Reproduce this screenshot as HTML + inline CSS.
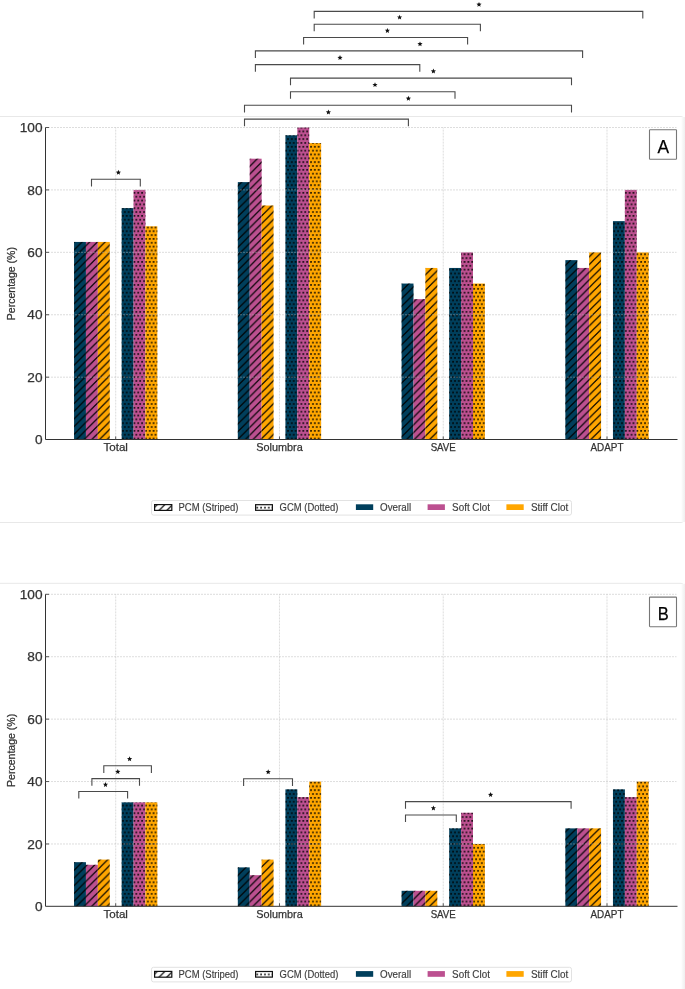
<!DOCTYPE html>
<html><head><meta charset="utf-8"><style>
html,body{margin:0;padding:0;background:#fff;}
svg{display:block;will-change:transform;}
text{stroke-width:0.25px;font-family:"Liberation Sans",sans-serif;}
</style></head><body>
<svg width="685" height="989" viewBox="0 0 685 989">
<defs><linearGradient id="edge" x1="0" x2="1" y1="0" y2="0"><stop offset="0" stop-color="#fff"/><stop offset="0.5" stop-color="#f6f6f6"/><stop offset="1" stop-color="#efefef"/></linearGradient>
<pattern id="stripe" patternUnits="userSpaceOnUse" width="7.6780" height="7.6780"><path d="M-2 -11.86 L9.68 -23.53 M-2 -4.18 L9.68 -15.86 M-2 3.5 L9.68 -8.18 M-2 11.18 L9.68 -0.5 M-2 18.86 L9.68 7.18" stroke="#000" stroke-width="1.15" fill="none"/></pattern>
<pattern id="dots" patternUnits="userSpaceOnUse" width="3.8390" height="7.6780"><g fill="#000"><circle cx="-3.78" cy="-6.81" r="0.9"/><circle cx="-3.78" cy="0.87" r="0.9"/><circle cx="-3.78" cy="8.55" r="0.9"/><circle cx="0.06" cy="-6.81" r="0.9"/><circle cx="0.06" cy="0.87" r="0.9"/><circle cx="0.06" cy="8.55" r="0.9"/><circle cx="3.9" cy="-6.81" r="0.9"/><circle cx="3.9" cy="0.87" r="0.9"/><circle cx="3.9" cy="8.55" r="0.9"/><circle cx="-1.86" cy="-2.97" r="0.9"/><circle cx="-1.86" cy="4.71" r="0.9"/><circle cx="-1.86" cy="12.39" r="0.9"/><circle cx="1.98" cy="-2.97" r="0.9"/><circle cx="1.98" cy="4.71" r="0.9"/><circle cx="1.98" cy="12.39" r="0.9"/><circle cx="5.82" cy="-2.97" r="0.9"/><circle cx="5.82" cy="4.71" r="0.9"/><circle cx="5.82" cy="12.39" r="0.9"/></g></pattern></defs>
<rect width="685" height="989" fill="#fff"/>
<rect x="-3.5" y="116.5" width="687" height="406" rx="2.5" fill="#fff" stroke="#e8e8e8" stroke-width="1"/>
<rect x="681" y="117" width="4" height="405" fill="url(#edge)"/>
<rect x="-3.5" y="583.3" width="687" height="420" rx="2.5" fill="#fff" stroke="#e8e8e8" stroke-width="1"/>
<rect x="681" y="583.8" width="4" height="419" fill="url(#edge)"/>
<g><rect x="74.05" y="241.95" width="11.9" height="197.65" fill="#003f5c"/>
<rect x="74.05" y="241.95" width="11.9" height="197.65" fill="url(#stripe)"/>
<rect x="85.95" y="241.95" width="11.9" height="197.65" fill="#bc5090"/>
<rect x="85.95" y="241.95" width="11.9" height="197.65" fill="url(#stripe)"/>
<rect x="97.85" y="241.95" width="11.9" height="197.65" fill="#ffa600"/>
<rect x="97.85" y="241.95" width="11.9" height="197.65" fill="url(#stripe)"/>
<rect x="121.65" y="208.12" width="11.9" height="231.48" fill="#003f5c"/>
<rect x="121.65" y="208.12" width="11.9" height="231.48" fill="url(#dots)"/>
<rect x="133.55" y="189.92" width="11.9" height="249.68" fill="#bc5090"/>
<rect x="133.55" y="189.92" width="11.9" height="249.68" fill="url(#dots)"/>
<rect x="145.45" y="226.34" width="11.9" height="213.26" fill="#ffa600"/>
<rect x="145.45" y="226.34" width="11.9" height="213.26" fill="url(#dots)"/>
<rect x="237.82" y="182.12" width="11.9" height="257.48" fill="#003f5c"/>
<rect x="237.82" y="182.12" width="11.9" height="257.48" fill="url(#stripe)"/>
<rect x="249.72" y="158.71" width="11.9" height="280.89" fill="#bc5090"/>
<rect x="249.72" y="158.71" width="11.9" height="280.89" fill="url(#stripe)"/>
<rect x="261.62" y="205.53" width="11.9" height="234.07" fill="#ffa600"/>
<rect x="261.62" y="205.53" width="11.9" height="234.07" fill="url(#stripe)"/>
<rect x="285.42" y="135.3" width="11.9" height="304.3" fill="#003f5c"/>
<rect x="285.42" y="135.3" width="11.9" height="304.3" fill="url(#dots)"/>
<rect x="297.32" y="127.5" width="11.9" height="312.1" fill="#bc5090"/>
<rect x="297.32" y="127.5" width="11.9" height="312.1" fill="url(#dots)"/>
<rect x="309.22" y="143.11" width="11.9" height="296.5" fill="#ffa600"/>
<rect x="309.22" y="143.11" width="11.9" height="296.5" fill="url(#dots)"/>
<rect x="401.59" y="283.55" width="11.9" height="156.05" fill="#003f5c"/>
<rect x="401.59" y="283.55" width="11.9" height="156.05" fill="url(#stripe)"/>
<rect x="413.49" y="299.16" width="11.9" height="140.44" fill="#bc5090"/>
<rect x="413.49" y="299.16" width="11.9" height="140.44" fill="url(#stripe)"/>
<rect x="425.39" y="267.95" width="11.9" height="171.65" fill="#ffa600"/>
<rect x="425.39" y="267.95" width="11.9" height="171.65" fill="url(#stripe)"/>
<rect x="449.19" y="267.95" width="11.9" height="171.65" fill="#003f5c"/>
<rect x="449.19" y="267.95" width="11.9" height="171.65" fill="url(#dots)"/>
<rect x="461.09" y="252.34" width="11.9" height="187.26" fill="#bc5090"/>
<rect x="461.09" y="252.34" width="11.9" height="187.26" fill="url(#dots)"/>
<rect x="472.99" y="283.55" width="11.9" height="156.05" fill="#ffa600"/>
<rect x="472.99" y="283.55" width="11.9" height="156.05" fill="url(#dots)"/>
<rect x="565.36" y="260.14" width="11.9" height="179.46" fill="#003f5c"/>
<rect x="565.36" y="260.14" width="11.9" height="179.46" fill="url(#stripe)"/>
<rect x="577.26" y="267.95" width="11.9" height="171.65" fill="#bc5090"/>
<rect x="577.26" y="267.95" width="11.9" height="171.65" fill="url(#stripe)"/>
<rect x="589.16" y="252.34" width="11.9" height="187.26" fill="#ffa600"/>
<rect x="589.16" y="252.34" width="11.9" height="187.26" fill="url(#stripe)"/>
<rect x="612.96" y="221.13" width="11.9" height="218.47" fill="#003f5c"/>
<rect x="612.96" y="221.13" width="11.9" height="218.47" fill="url(#dots)"/>
<rect x="624.86" y="189.92" width="11.9" height="249.68" fill="#bc5090"/>
<rect x="624.86" y="189.92" width="11.9" height="249.68" fill="url(#dots)"/>
<rect x="636.76" y="252.34" width="11.9" height="187.26" fill="#ffa600"/>
<rect x="636.76" y="252.34" width="11.9" height="187.26" fill="url(#dots)"/>
<g stroke="#b4b4b4" stroke-opacity="0.45" stroke-width="1" stroke-dasharray="2 1"><line x1="45" y1="377.18" x2="676.5" y2="377.18"/><line x1="45" y1="314.76" x2="676.5" y2="314.76"/><line x1="45" y1="252.34" x2="676.5" y2="252.34"/><line x1="45" y1="189.92" x2="676.5" y2="189.92"/><line x1="45" y1="127.5" x2="676.5" y2="127.5"/><line x1="115.7" y1="127.5" x2="115.7" y2="439.6" stroke-dashoffset="0.9"/><line x1="279.47" y1="127.5" x2="279.47" y2="439.6" stroke-dashoffset="0.9"/><line x1="443.24" y1="127.5" x2="443.24" y2="439.6" stroke-dashoffset="0.9"/><line x1="607.01" y1="127.5" x2="607.01" y2="439.6" stroke-dashoffset="0.9"/></g>
<path d="M45.5 127.5 V439.5 H677.5" fill="none" stroke="#333" stroke-width="1"/>
<path d="M45.5 377.18 h3.5 M45.5 314.76 h3.5 M45.5 252.34 h3.5 M45.5 189.92 h3.5 M45.5 127.5 h3.5 M115.7 439.5 v-3 M279.47 439.5 v-3 M443.24 439.5 v-3 M607.01 439.5 v-3" stroke="#555" stroke-width="1" fill="none"/>
<text x="42.5" y="444.2" text-anchor="end" font-size="12" fill="#333" stroke="#333" textLength="7.6" lengthAdjust="spacingAndGlyphs">0</text>
<text x="42.5" y="381.78" text-anchor="end" font-size="12" fill="#333" stroke="#333" textLength="15.2" lengthAdjust="spacingAndGlyphs">20</text>
<text x="42.5" y="319.36" text-anchor="end" font-size="12" fill="#333" stroke="#333" textLength="15.2" lengthAdjust="spacingAndGlyphs">40</text>
<text x="42.5" y="256.94" text-anchor="end" font-size="12" fill="#333" stroke="#333" textLength="15.2" lengthAdjust="spacingAndGlyphs">60</text>
<text x="42.5" y="194.52" text-anchor="end" font-size="12" fill="#333" stroke="#333" textLength="15.2" lengthAdjust="spacingAndGlyphs">80</text>
<text x="42.5" y="132.1" text-anchor="end" font-size="12" fill="#333" stroke="#333" textLength="22.8" lengthAdjust="spacingAndGlyphs">100</text>
<text x="115.7" y="450.9" text-anchor="middle" font-size="11.1" fill="#333" stroke="#333" textLength="24.5" lengthAdjust="spacingAndGlyphs">Total</text>
<text x="279.47" y="450.9" text-anchor="middle" font-size="11.1" fill="#333" stroke="#333" textLength="46.5" lengthAdjust="spacingAndGlyphs">Solumbra</text>
<text x="443.24" y="450.9" text-anchor="middle" font-size="11.1" fill="#333" stroke="#333" textLength="25.2" lengthAdjust="spacingAndGlyphs">SAVE</text>
<text x="607.01" y="450.9" text-anchor="middle" font-size="11.1" fill="#333" stroke="#333" textLength="33" lengthAdjust="spacingAndGlyphs">ADAPT</text>
<text transform="translate(14.5 283.6) rotate(-90)" text-anchor="middle" font-size="10.3" fill="#333" stroke="#333" textLength="73.2" lengthAdjust="spacingAndGlyphs">Percentage (%)</text>
<path d="M314.2 18.5 V11.4 H642.8 V18.5 M314.2 31.3 V24.2 H480.4 V31.3 M303.6 44.6 V37.5 H467.6 V44.6 M255.4 58 V50.9 H582.6 V58 M255.4 71.7 V64.6 H419.8 V71.7 M290.5 85.2 V78.1 H571.5 V85.2 M290.5 98.8 V91.7 H455 V98.8 M244.5 112.4 V105.3 H571.5 V112.4 M244.5 126.2 V119.1 H408.4 V126.2 M91.5 186.4 V179.3 H140.3 V186.4" fill="none" stroke="#4a4a4a" stroke-width="1.1"/>
<polygon points="479,1.9 479.71,3.62 481.57,3.77 480.16,4.98 480.59,6.78 479,5.82 477.41,6.78 477.84,4.98 476.43,3.77 478.29,3.62" fill="#111"/>
<polygon points="399.6,14.7 400.31,16.42 402.17,16.57 400.76,17.78 401.19,19.58 399.6,18.61 398.01,19.58 398.44,17.78 397.03,16.57 398.89,16.42" fill="#111"/>
<polygon points="387.4,28 388.11,29.72 389.97,29.87 388.56,31.08 388.99,32.88 387.4,31.91 385.81,32.88 386.24,31.08 384.83,29.87 386.69,29.72" fill="#111"/>
<polygon points="420,41.4 420.71,43.12 422.57,43.27 421.16,44.48 421.59,46.28 420,45.32 418.41,46.28 418.84,44.48 417.43,43.27 419.29,43.12" fill="#111"/>
<polygon points="340,55.1 340.71,56.82 342.57,56.97 341.16,58.18 341.59,59.98 340,59.02 338.41,59.98 338.84,58.18 337.43,56.97 339.29,56.82" fill="#111"/>
<polygon points="433.4,68.6 434.11,70.32 435.97,70.47 434.56,71.68 434.99,73.48 433.4,72.52 431.81,73.48 432.24,71.68 430.83,70.47 432.69,70.32" fill="#111"/>
<polygon points="375,82.2 375.71,83.92 377.57,84.07 376.16,85.28 376.59,87.08 375,86.12 373.41,87.08 373.84,85.28 372.43,84.07 374.29,83.92" fill="#111"/>
<polygon points="408.4,95.8 409.11,97.52 410.97,97.67 409.56,98.88 409.99,100.68 408.4,99.72 406.81,100.68 407.24,98.88 405.83,97.67 407.69,97.52" fill="#111"/>
<polygon points="328.4,109.6 329.11,111.32 330.97,111.47 329.56,112.68 329.99,114.48 328.4,113.52 326.81,114.48 327.24,112.68 325.83,111.47 327.69,111.32" fill="#111"/>
<polygon points="118.4,169.8 119.11,171.52 120.97,171.67 119.56,172.88 119.99,174.68 118.4,173.72 116.81,174.68 117.24,172.88 115.83,171.67 117.69,171.52" fill="#111"/>
<rect x="649.5" y="129.7" width="27" height="29.6" rx="0.6" fill="#fff" stroke="#777" stroke-width="1.1"/>
<text x="663.2" y="152.5" text-anchor="middle" font-size="18.6" fill="#000" stroke="#000" textLength="11.6" lengthAdjust="spacingAndGlyphs">A</text>
<rect x="151.5" y="500.5" width="420" height="14.6" rx="2" fill="#fff" stroke="#e2e2e2" stroke-width="1"/>
<rect x="154.6" y="504.6" width="17.2" height="5.8" fill="url(#stripe)" stroke="#111" stroke-width="1.2"/>
<text x="178.5" y="510.8" font-size="10" fill="#3c3c3c" stroke="#3c3c3c" style="stroke-width:0.15px" textLength="60" lengthAdjust="spacingAndGlyphs">PCM (Striped)</text>
<rect x="255.6" y="504.7" width="16.8" height="5.6" fill="url(#dots)" stroke="#111" stroke-width="1.2"/>
<text x="279.6" y="510.8" font-size="10" fill="#3c3c3c" stroke="#3c3c3c" style="stroke-width:0.15px" textLength="58.8" lengthAdjust="spacingAndGlyphs">GCM (Dotted)</text>
<rect x="355.9" y="504.3" width="17.3" height="5.7" fill="#003f5c"/>
<text x="380.1" y="510.8" font-size="10" fill="#3c3c3c" stroke="#3c3c3c" style="stroke-width:0.15px" textLength="31" lengthAdjust="spacingAndGlyphs">Overall</text>
<rect x="427.6" y="504.3" width="17.3" height="5.7" fill="#bc5090"/>
<text x="452.1" y="510.8" font-size="10" fill="#3c3c3c" stroke="#3c3c3c" style="stroke-width:0.15px" textLength="37.8" lengthAdjust="spacingAndGlyphs">Soft Clot</text>
<rect x="506.4" y="504.3" width="17.3" height="5.7" fill="#ffa600"/>
<text x="531" y="510.8" font-size="10" fill="#3c3c3c" stroke="#3c3c3c" style="stroke-width:0.15px" textLength="37.2" lengthAdjust="spacingAndGlyphs">Stiff Clot</text></g>
<g transform="translate(0 466.8)"><rect x="74.05" y="395.38" width="11.9" height="44.22" fill="#003f5c"/>
<rect x="74.05" y="395.38" width="11.9" height="44.22" fill="url(#stripe)"/>
<rect x="85.95" y="398" width="11.9" height="41.6" fill="#bc5090"/>
<rect x="85.95" y="398" width="11.9" height="41.6" fill="url(#stripe)"/>
<rect x="97.85" y="392.79" width="11.9" height="46.81" fill="#ffa600"/>
<rect x="97.85" y="392.79" width="11.9" height="46.81" fill="url(#stripe)"/>
<rect x="121.65" y="335.58" width="11.9" height="104.02" fill="#003f5c"/>
<rect x="121.65" y="335.58" width="11.9" height="104.02" fill="url(#dots)"/>
<rect x="133.55" y="335.58" width="11.9" height="104.02" fill="#bc5090"/>
<rect x="133.55" y="335.58" width="11.9" height="104.02" fill="url(#dots)"/>
<rect x="145.45" y="335.58" width="11.9" height="104.02" fill="#ffa600"/>
<rect x="145.45" y="335.58" width="11.9" height="104.02" fill="url(#dots)"/>
<rect x="237.82" y="400.59" width="11.9" height="39.01" fill="#003f5c"/>
<rect x="237.82" y="400.59" width="11.9" height="39.01" fill="url(#stripe)"/>
<rect x="249.72" y="408.39" width="11.9" height="31.21" fill="#bc5090"/>
<rect x="249.72" y="408.39" width="11.9" height="31.21" fill="url(#stripe)"/>
<rect x="261.62" y="392.79" width="11.9" height="46.81" fill="#ffa600"/>
<rect x="261.62" y="392.79" width="11.9" height="46.81" fill="url(#stripe)"/>
<rect x="285.42" y="322.56" width="11.9" height="117.04" fill="#003f5c"/>
<rect x="285.42" y="322.56" width="11.9" height="117.04" fill="url(#dots)"/>
<rect x="297.32" y="330.37" width="11.9" height="109.24" fill="#bc5090"/>
<rect x="297.32" y="330.37" width="11.9" height="109.24" fill="url(#dots)"/>
<rect x="309.22" y="314.76" width="11.9" height="124.84" fill="#ffa600"/>
<rect x="309.22" y="314.76" width="11.9" height="124.84" fill="url(#dots)"/>
<rect x="401.59" y="424" width="11.9" height="15.61" fill="#003f5c"/>
<rect x="401.59" y="424" width="11.9" height="15.61" fill="url(#stripe)"/>
<rect x="413.49" y="424" width="11.9" height="15.61" fill="#bc5090"/>
<rect x="413.49" y="424" width="11.9" height="15.61" fill="url(#stripe)"/>
<rect x="425.39" y="424" width="11.9" height="15.61" fill="#ffa600"/>
<rect x="425.39" y="424" width="11.9" height="15.61" fill="url(#stripe)"/>
<rect x="449.19" y="361.58" width="11.9" height="78.02" fill="#003f5c"/>
<rect x="449.19" y="361.58" width="11.9" height="78.02" fill="url(#dots)"/>
<rect x="461.09" y="345.97" width="11.9" height="93.63" fill="#bc5090"/>
<rect x="461.09" y="345.97" width="11.9" height="93.63" fill="url(#dots)"/>
<rect x="472.99" y="377.18" width="11.9" height="62.42" fill="#ffa600"/>
<rect x="472.99" y="377.18" width="11.9" height="62.42" fill="url(#dots)"/>
<rect x="565.36" y="361.58" width="11.9" height="78.02" fill="#003f5c"/>
<rect x="565.36" y="361.58" width="11.9" height="78.02" fill="url(#stripe)"/>
<rect x="577.26" y="361.58" width="11.9" height="78.02" fill="#bc5090"/>
<rect x="577.26" y="361.58" width="11.9" height="78.02" fill="url(#stripe)"/>
<rect x="589.16" y="361.58" width="11.9" height="78.02" fill="#ffa600"/>
<rect x="589.16" y="361.58" width="11.9" height="78.02" fill="url(#stripe)"/>
<rect x="612.96" y="322.56" width="11.9" height="117.04" fill="#003f5c"/>
<rect x="612.96" y="322.56" width="11.9" height="117.04" fill="url(#dots)"/>
<rect x="624.86" y="330.37" width="11.9" height="109.24" fill="#bc5090"/>
<rect x="624.86" y="330.37" width="11.9" height="109.24" fill="url(#dots)"/>
<rect x="636.76" y="314.76" width="11.9" height="124.84" fill="#ffa600"/>
<rect x="636.76" y="314.76" width="11.9" height="124.84" fill="url(#dots)"/>
<g stroke="#b4b4b4" stroke-opacity="0.45" stroke-width="1" stroke-dasharray="2 1"><line x1="45" y1="377.18" x2="676.5" y2="377.18"/><line x1="45" y1="314.76" x2="676.5" y2="314.76"/><line x1="45" y1="252.34" x2="676.5" y2="252.34"/><line x1="45" y1="189.92" x2="676.5" y2="189.92"/><line x1="45" y1="127.5" x2="676.5" y2="127.5"/><line x1="115.7" y1="127.5" x2="115.7" y2="439.6" stroke-dashoffset="0.9"/><line x1="279.47" y1="127.5" x2="279.47" y2="439.6" stroke-dashoffset="0.9"/><line x1="443.24" y1="127.5" x2="443.24" y2="439.6" stroke-dashoffset="0.9"/><line x1="607.01" y1="127.5" x2="607.01" y2="439.6" stroke-dashoffset="0.9"/></g>
<path d="M45.5 127.5 V439.5 H677.5" fill="none" stroke="#333" stroke-width="1"/>
<path d="M45.5 377.18 h3.5 M45.5 314.76 h3.5 M45.5 252.34 h3.5 M45.5 189.92 h3.5 M45.5 127.5 h3.5 M115.7 439.5 v-3 M279.47 439.5 v-3 M443.24 439.5 v-3 M607.01 439.5 v-3" stroke="#555" stroke-width="1" fill="none"/>
<text x="42.5" y="444.2" text-anchor="end" font-size="12" fill="#333" stroke="#333" textLength="7.6" lengthAdjust="spacingAndGlyphs">0</text>
<text x="42.5" y="381.78" text-anchor="end" font-size="12" fill="#333" stroke="#333" textLength="15.2" lengthAdjust="spacingAndGlyphs">20</text>
<text x="42.5" y="319.36" text-anchor="end" font-size="12" fill="#333" stroke="#333" textLength="15.2" lengthAdjust="spacingAndGlyphs">40</text>
<text x="42.5" y="256.94" text-anchor="end" font-size="12" fill="#333" stroke="#333" textLength="15.2" lengthAdjust="spacingAndGlyphs">60</text>
<text x="42.5" y="194.52" text-anchor="end" font-size="12" fill="#333" stroke="#333" textLength="15.2" lengthAdjust="spacingAndGlyphs">80</text>
<text x="42.5" y="132.1" text-anchor="end" font-size="12" fill="#333" stroke="#333" textLength="22.8" lengthAdjust="spacingAndGlyphs">100</text>
<text x="115.7" y="450.9" text-anchor="middle" font-size="11.1" fill="#333" stroke="#333" textLength="24.5" lengthAdjust="spacingAndGlyphs">Total</text>
<text x="279.47" y="450.9" text-anchor="middle" font-size="11.1" fill="#333" stroke="#333" textLength="46.5" lengthAdjust="spacingAndGlyphs">Solumbra</text>
<text x="443.24" y="450.9" text-anchor="middle" font-size="11.1" fill="#333" stroke="#333" textLength="25.2" lengthAdjust="spacingAndGlyphs">SAVE</text>
<text x="607.01" y="450.9" text-anchor="middle" font-size="11.1" fill="#333" stroke="#333" textLength="33" lengthAdjust="spacingAndGlyphs">ADAPT</text>
<text transform="translate(14.5 283.6) rotate(-90)" text-anchor="middle" font-size="10.3" fill="#333" stroke="#333" textLength="73.2" lengthAdjust="spacingAndGlyphs">Percentage (%)</text>
<path d="M103.8 306.1 V299 H151.4 V306.1 M91.9 318.9 V311.8 H139.5 V318.9 M78.8 331.8 V324.7 H127.6 V331.8 M243.6 319.1 V312 H292.5 V319.1 M405.5 355.3 V348.2 H456.3 V355.3 M405.5 341.9 V334.8 H571.1 V341.9" fill="none" stroke="#4a4a4a" stroke-width="1.1"/>
<polygon points="129.6,289.5 130.31,291.22 132.17,291.37 130.76,292.58 131.19,294.38 129.6,293.41 128.01,294.38 128.44,292.58 127.03,291.37 128.89,291.22" fill="#111"/>
<polygon points="117.8,302.3 118.51,304.02 120.37,304.17 118.96,305.38 119.39,307.18 117.8,306.21 116.21,307.18 116.64,305.38 115.23,304.17 117.09,304.02" fill="#111"/>
<polygon points="105.5,315.2 106.21,316.92 108.07,317.07 106.66,318.28 107.09,320.08 105.5,319.11 103.91,320.08 104.34,318.28 102.93,317.07 104.79,316.92" fill="#111"/>
<polygon points="268.2,302.5 268.91,304.22 270.77,304.37 269.36,305.58 269.79,307.38 268.2,306.41 266.61,307.38 267.04,305.58 265.63,304.37 267.49,304.22" fill="#111"/>
<polygon points="433.4,338.7 434.11,340.42 435.97,340.57 434.56,341.78 434.99,343.58 433.4,342.61 431.81,343.58 432.24,341.78 430.83,340.57 432.69,340.42" fill="#111"/>
<polygon points="490.6,325.3 491.31,327.02 493.17,327.17 491.76,328.38 492.19,330.18 490.6,329.21 489.01,330.18 489.44,328.38 488.03,327.17 489.89,327.02" fill="#111"/>
<rect x="649.5" y="130.3" width="27" height="29.6" rx="0.6" fill="#fff" stroke="#777" stroke-width="1.1"/>
<text x="663.2" y="153.4" text-anchor="middle" font-size="18.6" fill="#000" stroke="#000" textLength="11.0" lengthAdjust="spacingAndGlyphs">B</text>
<rect x="151.5" y="500.5" width="420" height="14.6" rx="2" fill="#fff" stroke="#e2e2e2" stroke-width="1"/>
<rect x="154.6" y="504.6" width="17.2" height="5.8" fill="url(#stripe)" stroke="#111" stroke-width="1.2"/>
<text x="178.5" y="510.8" font-size="10" fill="#3c3c3c" stroke="#3c3c3c" style="stroke-width:0.15px" textLength="60" lengthAdjust="spacingAndGlyphs">PCM (Striped)</text>
<rect x="255.6" y="504.7" width="16.8" height="5.6" fill="url(#dots)" stroke="#111" stroke-width="1.2"/>
<text x="279.6" y="510.8" font-size="10" fill="#3c3c3c" stroke="#3c3c3c" style="stroke-width:0.15px" textLength="58.8" lengthAdjust="spacingAndGlyphs">GCM (Dotted)</text>
<rect x="355.9" y="504.3" width="17.3" height="5.7" fill="#003f5c"/>
<text x="380.1" y="510.8" font-size="10" fill="#3c3c3c" stroke="#3c3c3c" style="stroke-width:0.15px" textLength="31" lengthAdjust="spacingAndGlyphs">Overall</text>
<rect x="427.6" y="504.3" width="17.3" height="5.7" fill="#bc5090"/>
<text x="452.1" y="510.8" font-size="10" fill="#3c3c3c" stroke="#3c3c3c" style="stroke-width:0.15px" textLength="37.8" lengthAdjust="spacingAndGlyphs">Soft Clot</text>
<rect x="506.4" y="504.3" width="17.3" height="5.7" fill="#ffa600"/>
<text x="531" y="510.8" font-size="10" fill="#3c3c3c" stroke="#3c3c3c" style="stroke-width:0.15px" textLength="37.2" lengthAdjust="spacingAndGlyphs">Stiff Clot</text></g>
</svg>
</body></html>
